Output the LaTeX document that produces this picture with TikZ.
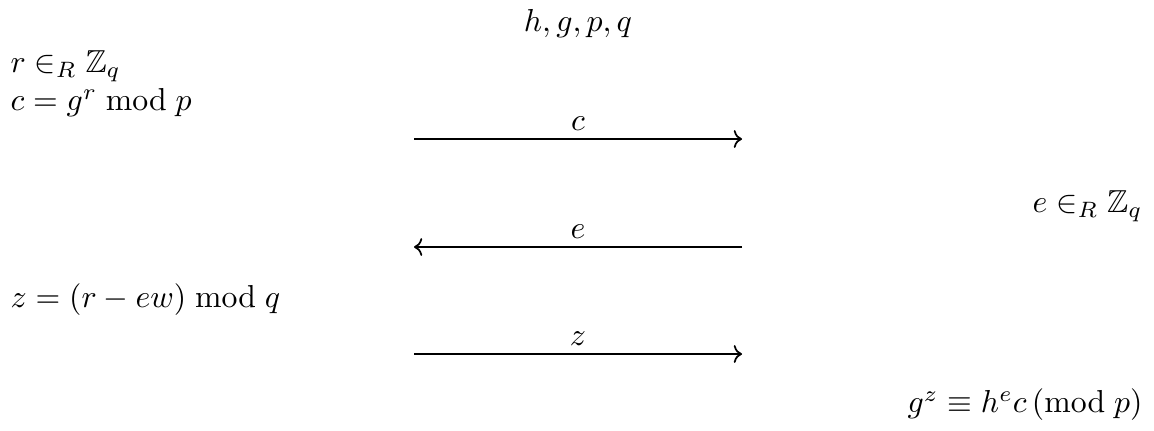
\documentclass[tikz,border=0pt]{standalone}
\usepackage{amsmath,amssymb}
\usetikzlibrary{arrows.meta}
\tikzset{
    msg/.style={-{To[length=2.6pt, width=5.6pt]}, line width=0.55pt},
    lbl/.style={inner sep=0pt},
    msglbl/.style={above, inner sep=2.5pt},
    common settings/.style={
        x={(0.01106cm,0cm)},
        y={(0cm,-0.01106cm)}
    }
}
\begin{document}
\begin{tikzpicture}[common settings]

    \useasboundingbox (0,0) rectangle (1154,430);

    % Public values
    \node[lbl] (pub) at (578,24) {$h, g, p, q$};

    % Prover (left)
    \node[lbl, anchor=west] (pick) at (10,66) {$r \in_R \mathbb{Z}_q$};
    \node[lbl, anchor=west] (commit) at (10,103) {$c = g^r \bmod p$};
    \node[lbl, anchor=west] (resp) at (10,300) {$z = (r - ew) \bmod q$};

    % Verifier (right)
    \node[lbl, anchor=east] (chal) at (1143,206) {$e \in_R \mathbb{Z}_q$};
    \node[lbl, anchor=east] (check) at (1143,405) {$g^z \equiv h^e c\,(\mathrm{mod}\;p)$};

    % Messages
    \coordinate (cL) at (414,139); \coordinate (cR) at (742,139);
    \coordinate (eL) at (414,247); \coordinate (eR) at (742,247);
    \coordinate (zL) at (414,354); \coordinate (zR) at (742,354);

    \draw[msg] (cL) -- node[msglbl] (cm) {$c$} (cR);
    \draw[msg] (eR) -- node[msglbl] (em) {$e$} (eL);
    \draw[msg] (zL) -- node[msglbl] (zm) {$z$} (zR);

\end{tikzpicture}
\end{document}
